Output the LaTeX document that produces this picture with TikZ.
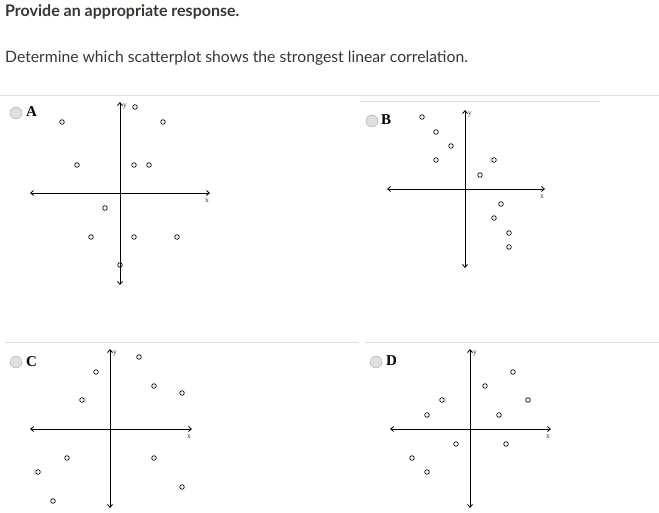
\documentclass[tikz,border=0pt]{standalone}
\usepackage{fontspec}
\setmainfont{Lato}
\newfontfamily\serifA{Liberation Serif}
\usetikzlibrary{arrows.meta}
\definecolor{txt}{HTML}{3A3530}
\definecolor{sep}{HTML}{DDDDDD}
\tikzset{
  pt/.style={draw,circle,inner sep=0pt,minimum size=4.6pt,line width=0.7pt},
  axis/.style={line width=0.8pt,{Straight Barb[length=3pt,width=5pt]}-{Straight Barb[length=3pt,width=5pt]}},
  radio/.style={circle,draw=gray!70,fill=gray!25,minimum size=12pt,inner sep=0pt},
  optlab/.style={font=\serifA\bfseries\fontsize{15}{15}\selectfont,anchor=west,inner sep=0pt},
  axlab/.style={font=\serifA\fontsize{7.5}{7.5}\selectfont,inner sep=0pt,text=black!80},
  sepline/.style={draw=sep,line width=0.8pt}
}
\newcommand{\plotaxes}[7]{% name, cx, cy, x1, x2, y1, y2
  \coordinate (#1l) at (#4,#3); \coordinate (#1r) at (#5,#3);
  \coordinate (#1t) at (#2,#6); \coordinate (#1b) at (#2,#7);
  \draw[axis] (#1l) -- (#1r);
  \draw[axis] (#1t) -- (#1b);
  \node[axlab] (#1xl) at ([shift={(-3,8)}]#1r) {x};
  \node[axlab] (#1yl) at ([shift={(5,5)}]#1t) {y};
}
\begin{document}
\begin{tikzpicture}[x=1pt,y=-1pt]
\useasboundingbox (0,0) rectangle (659,513);
\node[anchor=west,inner sep=0pt,text=txt,font=\bfseries\fontsize{16}{16}\selectfont] (title) at (5,12) {Provide an appropriate response.};
\node[anchor=west,inner sep=0pt,text=txt,font=\fontsize{15.7}{16}\selectfont] (q) at (5,58) {Determine which scatterplot shows the strongest linear correlation.};
\draw[sepline] (0,95) -- (659,95);
\draw[sepline] (360,101) -- (600,101);
\draw[sepline] (5,342) -- (330,342);
\draw[sepline] (330,342) -- (358,342);
\draw[sepline] (365,342) -- (659,342);
% A
\node[radio] (ra) at (16,113) {};
\node[optlab] (la) at (26,112) {A};
\plotaxes{A}{120}{193}{30}{210}{102}{285}
\foreach \p [count=\i] in {(62,122),(77,165),(135,107),(163,122),(134,165),(149,165),(105,208),(91,237),(134,237),(177,237),(120,265)}
  \node[pt] (a\i) at \p {};
% B
\node[radio] (rb) at (372,121) {};
\node[optlab] (lb) at (381,120) {B};
\plotaxes{B}{465}{189}{387}{545}{110}{268}
\foreach \p [count=\i] in {(422,117),(436,132),(451,146),(436,160),(494,160),(480,175),(501,204),(494,218),(509,233),(509,247)}
  \node[pt] (b\i) at \p {};
% C
\node[radio] (rc) at (16,362) {};
\node[optlab] (lc) at (26,362) {C};
\plotaxes{C}{110}{429}{30}{192}{349}{508}
\foreach \p [count=\i] in {(139,357),(96,372),(154,386),(182,393),(82,400),(67,458),(154,458),(38,472),(182,487),(53,501)}
  \node[pt] (c\i) at \p {};
% D
\node[radio] (rd) at (376,362) {};
\node[optlab] (ld) at (386,361) {D};
\plotaxes{D}{470}{429}{390}{551}{349}{508}
\foreach \p [count=\i] in {(513,372),(485,386),(442,400),(528,400),(427,415),(499,415),(456,444),(506,444),(412,458),(427,472)}
  \node[pt] (d\i) at \p {};
\end{tikzpicture}
\end{document}
